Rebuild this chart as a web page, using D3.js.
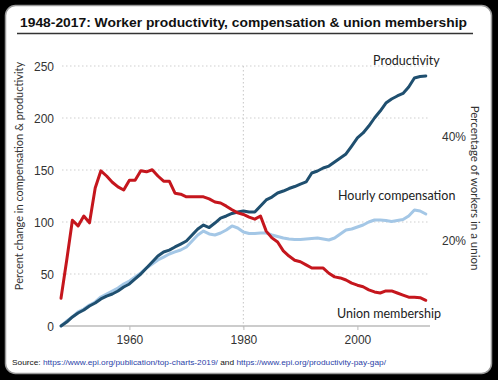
<!DOCTYPE html>
<html>
<head>
<meta charset="utf-8">
<script src="https://d3js.org/d3.v7.min.js"></script>
<style>
body { margin: 0; background: #000; }
svg { display: block; font-family: Lato, "Open Sans", sans-serif; }
.grid line { stroke: #cfcfcf; stroke-dasharray: 1.5,2.5; stroke-width: 1.2px; }
.axis text { fill: #333; font-size: 12px; }
.axis path { display: none; }
.series { fill: none; stroke-width: 3px; stroke-linejoin: round; stroke-linecap: round; }
</style>
</head>
<body>
<svg width="498" height="380"></svg>
<script>
// years 1948..2012
const years = d3.range(1948, 2013)

// percent change since 1948 (left axis)
const productivity = [0, 3.8, 8.7, 12.5, 15.4, 19.2, 22.1, 26, 28.8, 30.8, 33.7, 37.5,
    40.4, 45.2, 50, 55.8, 61.5, 67.3, 71.2, 73, 76, 78.8,
    81.7, 87.5, 93.3, 97.1, 94.7, 99, 103.8, 105.8, 108.2, 109.6,
    110.6, 109.6, 109.6, 115.4, 121.2, 124, 127.9, 129.8, 132.2, 134.1,
    136.5, 138.5, 147.1, 149, 151.9, 153.8, 157.7, 161.5, 165.4, 173,
    180.8, 185.6, 192.3, 200, 206.7, 214.4, 218.3, 221.2, 223.6, 229.8,
    238.5, 239.9, 240.4]

const compensation = [0, 4.8, 8.7, 13.5, 16.3, 20.2, 23.1, 27.9, 30.8, 33.7, 36.5, 40.4,
    43.3, 47.1, 51, 55.8, 59.6, 63.5, 66.3, 69.2, 71.2, 73.1,
    76, 81.7, 87.5, 91.3, 88.5, 87.5, 89.4, 92.3, 96.2, 94.2,
    90.4, 88.9, 88.9, 89.4, 89.4, 87.5, 86.1, 84.6, 83.7, 83.2,
    83.2, 83.7, 84.1, 84.6, 83.7, 82.7, 84.6, 88.5, 92.3, 93.3,
    95.2, 97.1, 100, 101.9, 101.9, 101.4, 100.5, 101.4, 102.4, 105.8,
    111.5, 110.6, 107.7]

// share of workers in a union, % (right axis)
const union = [9.0, 16.3, 24.0, 22.9, 24.8, 23.5, 30.2, 33.5, 32.5, 31.3, 30.4, 29.8,
    31.7, 31.7, 33.5, 33.3, 33.7, 32.5, 31.5, 31.5, 29.2, 29.0,
    28.5, 28.5, 28.5, 28.5, 28.1, 27.5, 27.3, 26.7, 26.0, 25.4,
    25.1, 24.6, 24.2, 24.8, 21.9, 20.6, 19.8, 18.1, 17.1, 16.3,
    16.0, 15.4, 14.8, 14.8, 14.8, 13.8, 13.1, 12.9, 12.5, 11.9,
    11.5, 11.2, 10.6, 10.2, 10.0, 10.4, 10.4, 10.0, 9.6, 9.2,
    9.2, 9.1, 8.6]

const leftTicks = [0, 50, 100, 150, 200, 250]
const rightTicks = [20, 40]
const xTicks = [1960, 1980, 2000]

const svg = d3.select("svg")

// card
svg.append("rect").attr("x", 5.5).attr("y", 5.5).attr("width", 486).attr("height", 368)
    .attr("rx", 10).attr("fill", "#fff").attr("stroke", "#999").attr("stroke-width", 1.5)

svg.append("text").attr("x", 20).attr("y", 27)
    .attr("font-family", "'Liberation Sans', Arial, sans-serif")
    .attr("font-weight", "bold").attr("font-size", 13.5).attr("fill", "#111")
    .attr("textLength", 447).attr("lengthAdjust", "spacingAndGlyphs")
    .text("1948-2017: Worker productivity, compensation & union membership")
svg.append("line").attr("x1", 17).attr("x2", 473).attr("y1", 33.5).attr("y2", 33.5)
    .attr("stroke", "#333").attr("stroke-width", 1.5)

let x = d3.scaleLinear().domain([1948, 2012]).range([61, 425.8])
let y = d3.scaleLinear().domain([0, 250]).range([326, 66])
let y2 = d3.scaleLinear().domain([0, 50]).range([345, 85])

const gridX0 = 62, gridX1 = 430

// dotted grid
svg.append("g").attr("class", "grid")
    .selectAll("line").data(leftTicks.slice(1)).join("line")
    .attr("x1", gridX0).attr("x2", gridX1)
    .attr("y1", d => y(d)).attr("y2", d => y(d))
svg.append("g").attr("class", "grid")
    .append("line")
    .attr("x1", x(1980)).attr("x2", x(1980))
    .attr("y1", y(250)).attr("y2", y(0) + 4)

// baseline
svg.append("line").attr("x1", gridX0).attr("x2", gridX1)
    .attr("y1", y(0)).attr("y2", y(0))
    .attr("stroke", "#bbb").attr("stroke-width", 1.5)

// left axis
svg.append("g").attr("class", "axis")
    .attr("transform", "translate(" + 54 + ",0)")
    .call(d3.axisLeft(y).tickValues(leftTicks).tickSize(0).tickPadding(0))
    .selectAll("text").attr("dy", "0.36em")

// right axis
svg.append("g").attr("class", "axis")
    .attr("transform", "translate(" + 442 + ",0)")
    .call(d3.axisRight(y2).tickValues(rightTicks).tickSize(0).tickPadding(0)
        .tickFormat(d => d + "%"))

// bottom axis
let xAxis = svg.append("g").attr("class", "axis")
    .attr("transform", "translate(0," + y(0) + ")")
    .call(d3.axisBottom(x).tickValues(xTicks).tickFormat(d3.format("d")).tickSize(4).tickPadding(5))
xAxis.selectAll("line").attr("stroke", "#bbb")

// axis titles
svg.append("text")
    .attr("transform", "translate(23,176) rotate(-90)")
    .attr("text-anchor", "middle").attr("font-size", 11).attr("fill", "#333")
    .text("Percent change in compensation & productivity")
svg.append("text")
    .attr("transform", "translate(471,188) rotate(90)")
    .attr("text-anchor", "middle").attr("font-size", 11.5).attr("fill", "#333")
    .text("Percentage of workers in a union")

// lines
let lineL = d3.line().x((d, i) => x(years[i])).y(d => y(d))
let lineR = d3.line().x((d, i) => x(years[i])).y(d => y2(d))

svg.append("path").attr("class", "series").attr("stroke", "#a4c7e6").attr("d", lineL(compensation))
svg.append("path").attr("class", "series").attr("stroke", "#1f4f6f").attr("d", lineL(productivity))
svg.append("path").attr("class", "series").attr("stroke", "#c5161d").attr("d", lineR(union))

// series labels
const labels = [
    {t: "Productivity", x: 373, y: 65},
    {t: "Hourly compensation", x: 338, y: 200},
    {t: "Union membership", x: 337, y: 318}
]
svg.selectAll(".lab").data(labels).join("text").attr("class", "lab")
    .attr("x", d => d.x).attr("y", d => d.y)
    .attr("font-size", 12.5).attr("fill", "#222")
    .text(d => d.t)

// source
let src = svg.append("text").attr("x", 12).attr("y", 365)
    .attr("font-family", "'Liberation Sans', Arial, sans-serif")
    .attr("font-size", 8).attr("textLength", 374).attr("lengthAdjust", "spacingAndGlyphs")
src.append("tspan").attr("fill", "#111").text("Source: ")
src.append("tspan").attr("fill", "#2b3fa8").text("https://www.epi.org/publication/top-charts-2019/")
src.append("tspan").attr("fill", "#111").text(" and ")
src.append("tspan").attr("fill", "#2b3fa8").text("https://www.epi.org/productivity-pay-gap/")
</script>
</body>
</html>
